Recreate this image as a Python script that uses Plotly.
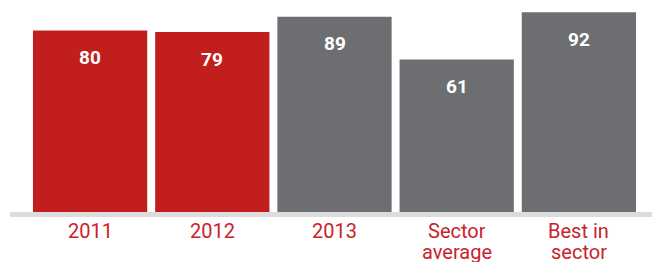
import plotly.graph_objects as go

categories = ["2011", "2012", "2013", "Sector average", "Best in sector"]
tick_labels = [["2011"], ["2012"], ["2013"], ["Sector", "average"], ["Best in", "sector"]]
values = [80, 79, 89, 61, 92]
bar_colors = ["#c21e1e", "#c21e1e", "#6d6e72", "#6d6e72", "#6d6e72"]

AXIS_FLOOR = -39.2  # truncated value axis used by the original graphic
AXIS_TOP = 93.5

positions = list(range(len(categories)))

fig = go.Figure()
fig.add_trace(go.Bar(
    x=positions,
    y=[v - AXIS_FLOOR for v in values],
    base=AXIS_FLOOR,
    width=0.935,
    marker=dict(color=bar_colors, line=dict(width=0)),
    hoverinfo="skip",
))

# value labels inside bars
for p, v in zip(positions, values):
    fig.add_annotation(
        x=p, y=v, text=f"<b>{v}</b>", showarrow=False, yshift=-27,
        font=dict(family="Roboto", size=19, color="white"),
    )

# category labels (tight line spacing)
for p, lines in zip(positions, tick_labels):
    for i, line in enumerate(lines):
        fig.add_annotation(
            x=p, xref="x", y=0, yref="paper", yanchor="middle",
            text=line, showarrow=False, yshift=-19 - 20.5 * i,
            height=20, valign="middle",
            font=dict(family="Roboto", size=20, color="#c8232b"),
        )

fig.add_shape(
    type="rect", xref="paper", yref="paper",
    x0=-0.031, x1=1.03, y0=-0.0248, y1=0,
    fillcolor="#dcdcdc", line=dict(width=0), layer="below",
)

fig.update_layout(
    width=652, height=262,
    margin=dict(l=29, r=12, t=10, b=50),
    paper_bgcolor="white", plot_bgcolor="white",
    showlegend=False,
    xaxis=dict(
        type="linear", range=[-0.5, len(categories) - 0.5],
        showticklabels=False, automargin=False,
        showgrid=False, zeroline=False, showline=False, ticks="",
    ),
    yaxis=dict(range=[AXIS_FLOOR, AXIS_TOP], visible=False, automargin=False,
               showgrid=False, zeroline=False),
)

fig.write_html("out.html", config={"responsive": False, "displayModeBar": False},
               post_script="document.body.style.margin='0';")
